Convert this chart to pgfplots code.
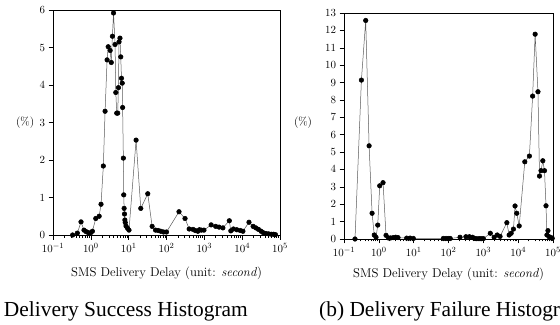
\documentclass[border=0pt]{standalone}
\usepackage{fontspec}
\usepackage{pgfplots}
\pgfplotsset{compat=1.18}
\newfontfamily\capfont{Liberation Serif}

\begin{document}
\begin{tikzpicture}
\useasboundingbox (0bp,0bp) rectangle (560bp,325bp);
\clip (0bp,0bp) rectangle (560bp,325bp);
\begin{axis}[scale only axis, xmode=log, xmin=0.1, xmax=1e5, ymin=0,
    axis line style={line width=0.6bp},
    tick align=outside, xtick pos=left, ytick pos=left,
    major tick length=4.5bp, minor tick length=2.5bp,
    tick style={black, line width=0.5bp},
    tick label style={font=\fontsize{10.95}{12}\selectfont},
    xlabel={SMS Delivery Delay (unit: \textit{second})},
    ylabel={(\%)},
  at={(53bp,90bp)}, anchor=south west, width=227bp, height=225bp,
  ymax=6, ytick={0,1,2,3,4,5,6},
  every axis y label/.style={at={(axis description cs:-0.123,0.5)}, anchor=center, font=\fontsize{11.5}{13}\selectfont},
  every axis x label/.style={at={(axis description cs:0.5,-0.169)}, anchor=center, font=\fontsize{12.8}{14}\selectfont}]
\addplot[gray!70!black, line width=0.5bp, mark=*, mark size=2.3bp, mark options={fill=black, draw=black}] coordinates {
(0.33,0) (0.44,0.05) (0.55,0.35) (0.66,0.13) (0.75,0.09) (0.86,0.06) (0.99,0.06) (1.1,0.1)
(1.35,0.44) (1.66,0.5) (1.86,0.82) (2.14,1.84) (2.38,3.3) (2.69,4.67) (2.88,5.02) (3.24,4.92)
(3.47,4.6) (3.72,5.3) (3.98,5.92) (4.37,5.08) (4.57,3.8) (4.84,3.25) (5.13,3.25) (5.37,3.93)
(5.56,5.15) (5.89,5.25) (6.17,4.75) (6.46,4.18) (6.76,4.05) (6.92,3.4) (7.24,2.05) (7.41,1.07)
(7.59,0.71) (7.76,0.56) (7.94,0.4) (8.13,0.33) (8.51,0.24) (9.33,0.18) (10.2,0.13) (15.7,2.53)
(20.9,0.71) (32,1.1) (41.7,0.23) (51.3,0.13) (60.3,0.12) (70.8,0.1) (83.2,0.08) (100,0.08)
(214,0.62) (309,0.44) (398,0.16) (501,0.15) (575,0.12) (676,0.1) (741,0.14) (832,0.13)
(977,0.13) (1514,0.27) (1995,0.23) (2455,0.21) (3090,0.19) (4571,0.38) (5012,0.11) (5888,0.16)
(7244,0.14) (8913,0.12) (10471,0.1) (15136,0.34) (19498,0.23) (22909,0.19) (26915,0.15)
(31623,0.1) (36308,0.06) (42658,0.04) (50119,0.03) (58884,0.02) (67608,0.02) (75858,0.01)
};
\end{axis}
\begin{axis}[scale only axis, xmode=log, xmin=0.1, xmax=1e5, ymin=0,
    axis line style={line width=0.6bp},
    tick align=outside, xtick pos=left, ytick pos=left,
    major tick length=4.5bp, minor tick length=2.5bp,
    tick style={black, line width=0.5bp},
    tick label style={font=\fontsize{10.95}{12}\selectfont},
    xlabel={SMS Delivery Delay (unit: \textit{second})},
    ylabel={(\%)},
  at={(344bp,86bp)}, anchor=south west, width=209bp, height=226bp,
  ymax=13, ytick={0,1,...,13},
  every axis y label/.style={at={(axis description cs:-0.196,0.513)}, anchor=center, font=\fontsize{11.5}{13}\selectfont},
  every axis x label/.style={at={(axis description cs:0.5,-0.155)}, anchor=center, font=\fontsize{12.8}{14}\selectfont}]
\addplot[gray!70!black, line width=0.5bp, mark=*, mark size=2.3bp, mark options={fill=black, draw=black}] coordinates {
(0.207,0) (0.316,9.14) (0.42,12.57) (0.525,5.36) (0.64,1.48) (0.74,0.23) (0.83,0.1) (0.93,0.8)
(1.06,3.06) (1.32,3.24) (1.61,0.21) (1.88,0.06) (2.18,0.06) (2.6,0.08) (3.06,0.1) (3.55,0.08)
(6.3,0.05) (7.9,0.05) (9.8,0.03) (71,0.03) (85,0.03) (100,0.03) (112,0.03) (214,0.1)
(316,0.13) (398,0.13) (490,0.1) (550,0.04) (646,0.02) (759,0.02) (871,0.02) (1000,0.02)
(1585,0.33) (2042,0.1) (2512,0.23) (3020,0.15) (4732,0.94) (5500,0.23) (6300,0.33) (7330,0.57)
(8130,1.9) (9120,1.48) (10700,0.75) (15500,4.44) (21000,4.77) (26000,8.22) (30700,11.78)
(37000,8.47) (41000,3.62) (45300,3.93) (51000,4.5) (57000,3.93) (63000,1.91) (66900,0.23)
(71600,0.48) (77600,0.13) (87000,0.08) (95000,0.04)
};
\end{axis}
\node[anchor=base east, font=\capfont\fontsize{21.5}{25}\selectfont, inner sep=0pt] at (248bp,9bp) {(a) Delivery Success Histogram};
\node[anchor=base west, font=\capfont\fontsize{21.5}{25}\selectfont, inner sep=0pt] at (319bp,9bp) {(b) Delivery Failure Histogram};
\end{tikzpicture}
\end{document}
